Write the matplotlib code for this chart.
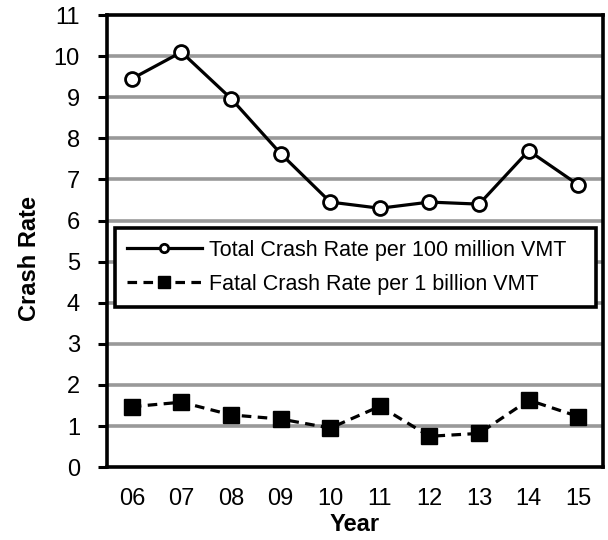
import numpy as np
import matplotlib.pyplot as plt

plt.rcParams['font.family'] = ['Liberation Sans', 'DejaVu Sans']

# Datos
anos = ["06", "07", "08", "09", "10", "11", "12", "13", "14", "15"]
total = [9.45, 10.1, 8.97, 7.63, 6.45, 6.3, 6.45, 6.4, 7.7, 6.87]
fatal = [1.47, 1.58, 1.27, 1.17, 0.95, 1.48, 0.75, 0.82, 1.63, 1.23]

fig = plt.figure(figsize=(6.08, 5.4), dpi=100)
ax = fig.add_axes([0.176, 0.135, 0.816, 0.837])

x = np.arange(len(anos))

# Liñas de referencia
for yv in range(1, 11):
    ax.axhline(yv, color="#999999", lw=2.6, zorder=1)

ax.plot(x, total, color="black", lw=2.3, marker="o", markersize=10,
        markerfacecolor="white", markeredgecolor="black", markeredgewidth=2,
        label="Total Crash Rate per 100 million VMT", zorder=3)
ax.plot(x, fatal, color="black", lw=2.3, ls=(0, (3, 2)), marker="s", markersize=11,
        markerfacecolor="black", markeredgecolor="black",
        label="Fatal Crash Rate per 1 billion VMT", zorder=3)

ax.set_xlim(-0.5, len(anos) - 0.5)
ax.set_ylim(0, 11)
ax.set_yticks(range(0, 12))
ax.set_xticks(x)
ax.set_xticklabels(anos)
ax.tick_params(axis="y", labelsize=17, length=6.5, width=2.2, direction="out", pad=13)
ax.tick_params(axis="x", labelsize=17, length=0, pad=15)

for s in ax.spines.values():
    s.set_linewidth(2.6)

ax.set_ylabel("Crash Rate", fontsize=17, fontweight="bold")
ax.yaxis.set_label_coords(-0.133, 0.462)
ax.set_xlabel("Year", fontsize=17, fontweight="bold", labelpad=2)

leg = ax.legend(loc="upper left", bbox_to_anchor=(0.016, 0.529, 0.97, 0.0),
                mode="expand", fontsize=15.5, handlelength=3.5, frameon=True,
                fancybox=False, edgecolor="black", framealpha=1, borderpad=0.55,
                labelspacing=0.6, handletextpad=0.3, borderaxespad=0)
leg.get_frame().set_linewidth(2.6)
leg.set_zorder(5)
hs = leg.legend_handles
hs[0].set_markersize(6)
hs[1].set_markersize(9)

fig.savefig("out.png", dpi=100)
